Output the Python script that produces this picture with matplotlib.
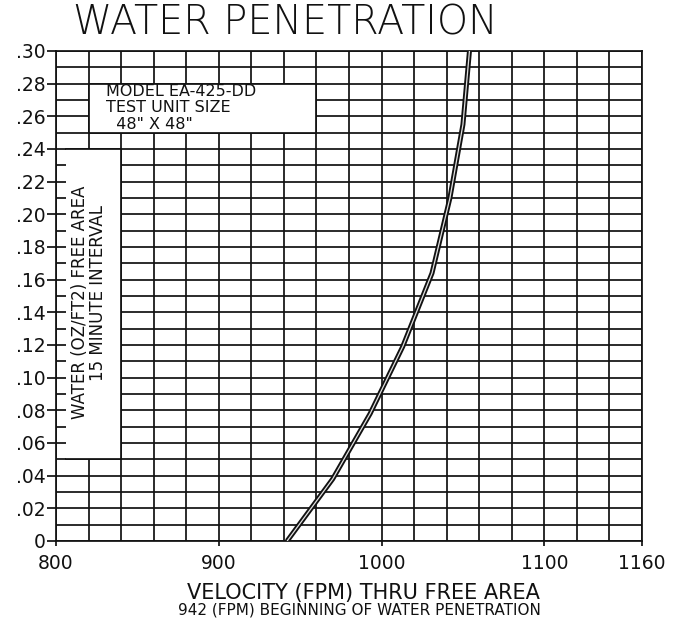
import matplotlib
matplotlib.use("Agg")
import matplotlib.pyplot as plt
from matplotlib.patches import Rectangle
import numpy as np

# Data
velocity = [942, 970, 993, 1013, 1031, 1042, 1050, 1054]
water = [0.0, 0.038, 0.078, 0.119, 0.164, 0.210, 0.255, 0.300]

x_ticks = [800, 900, 1000, 1100, 1160]
x_tick_labels = ["800", "900", "1000", "1100", "1160"]
y_ticks = [0.0, 0.02, 0.04, 0.06, 0.08, 0.10, 0.12, 0.14, 0.16, 0.18, 0.20,
           0.22, 0.24, 0.26, 0.28, 0.30]
y_tick_labels = ["0", ".02", ".04", ".06", ".08", ".10", ".12", ".14", ".16",
                 ".18", ".20", ".22", ".24", ".26", ".28", ".30"]

title = "WATER PENETRATION"
xlabel1 = "VELOCITY (FPM) THRU FREE AREA"
xlabel2 = "942 (FPM) BEGINNING OF WATER PENETRATION"
ylabel1 = "WATER (OZ/FT2) FREE AREA"
ylabel2 = "15 MINUTE INTERVAL"
box_lines = ["MODEL EA-425-DD", "TEST UNIT SIZE", "  48\" X 48\""]

plt.rcParams['font.family'] = ['DejaVu Sans']
INK = "#111111"

fig = plt.figure(figsize=(6.82, 6.20), dpi=100)
ax = fig.add_axes([56/682, 79/620, 586/682, 490/620])
ax.set_xlim(800, 1160)
ax.set_ylim(0, 0.30)

glw = 1.25
# grid
for gx in np.arange(800, 1161, 20):
    ax.axvline(gx, color=INK, lw=glw, zorder=1)
for gy in np.arange(0, 0.3001, 0.01):
    ax.axhline(gy, color=INK, lw=glw, zorder=1)

# white boxes
ax.add_patch(Rectangle((820, 0.25), 140, 0.03, facecolor="white",
                       edgecolor="none", zorder=2))
ax.add_patch(Rectangle((806, 0.05), 34, 0.19, facecolor="white",
                       edgecolor="none", zorder=2))
# box borders
ax.plot([820, 960, 960, 820, 820], [0.25, 0.25, 0.28, 0.28, 0.25],
        color=INK, lw=glw, zorder=3)
ax.plot([806, 840, 840, 806], [0.24, 0.24, 0.05, 0.05],
        color=INK, lw=glw, zorder=3)

# curve (double line)
ax.plot(velocity, water, color=INK, lw=3.6, zorder=4,
        solid_joinstyle="miter", solid_capstyle="butt")
ax.plot(velocity, water, color="#e0e0e0", lw=0.9, zorder=5,
        solid_joinstyle="miter", solid_capstyle="butt")

for s in ax.spines.values():
    s.set_linewidth(glw)
    s.set_color(INK)
    s.set_zorder(3)

ax.set_xticks(x_ticks)
ax.set_xticklabels(x_tick_labels, fontsize=13.5)
ax.set_yticks(y_ticks)
ax.set_yticklabels(y_tick_labels, fontsize=13.5)
ax.tick_params(axis="x", direction="out", length=3.5, width=glw, pad=6,
               color=INK, labelcolor=INK)
ax.tick_params(axis="y", direction="out", length=6.5, width=glw, pad=1,
               color=INK, labelcolor=INK)

# box text
for i, line in enumerate(box_lines):
    ax.text(831, 0.2752 - 0.0100 * i, line, fontsize=11.5, ha="left",
            va="center", color=INK, zorder=6)

# y label text inside left box
ax.text(815.0, 0.146, ylabel1, rotation=90, fontsize=12, ha="center",
        va="center", color=INK, zorder=6)
ax.text(826.0, 0.152, ylabel2, rotation=90, fontsize=12, ha="center",
        va="center", color=INK, zorder=6)

fig.text(285/682, 1 - 23/620, title, fontsize=28.5, ha="center",
         va="center", color=INK, fontweight="light")
fig.text(363/682, 1 - 593/620, xlabel1, fontsize=15, ha="center",
         va="center", color=INK)
fig.text(359/682, 1 - 610/620, xlabel2, fontsize=11, ha="center",
         va="center", color=INK)

fig.savefig("out.png", dpi=100)
